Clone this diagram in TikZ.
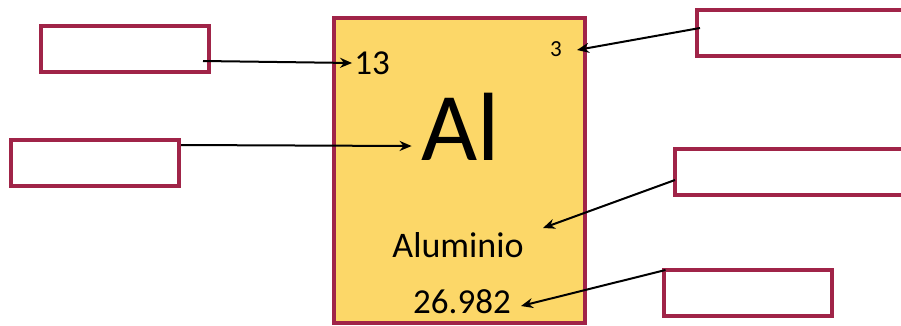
\documentclass[tikz,border=0pt]{standalone}
\usepackage{fontspec}
\setmainfont{Carlito}
\usetikzlibrary{arrows.meta, positioning, calc}
\definecolor{elemyellow}{RGB}{252, 215, 104}
\definecolor{elemborder}{RGB}{160, 36, 72}
\tikzset{
  labelbox/.style={
    draw=elemborder,
    line width=4pt,
    fill=white,
    minimum width=168pt,
    minimum height=46pt,
    inner sep=0pt
  },
  elembox/.style={
    draw=elemborder,
    line width=4pt,
    fill=elemyellow,
    minimum width=251pt,
    minimum height=305pt,
    inner sep=0pt
  },
  pointer/.style={
    -{Stealth[length=12pt,width=10pt]},
    line width=2pt,
    draw=black
  },
  elemtext/.style={inner sep=0pt, text=black}
}

\begin{document}
\begin{tikzpicture}[x=1pt, y=-1pt]
  \useasboundingbox (0,0) rectangle (901,325);
  % element card
  \node[elembox] (card) at (459.5,170) {};
  \node[elemtext, font=\fontsize{35}{35}\selectfont] (numtxt) at (372,63) {13};
  \node[elemtext, font=\fontsize{23}{23}\selectfont] (valtxt) at (556,49) {3};
  \node[elemtext, font=\fontsize{97}{97}\selectfont] (symtxt) at (461,127) {Al};
  \node[elemtext, font=\fontsize{36}{36}\selectfont] (nametxt) at (458,245) {Aluminio};
  \node[elemtext, font=\fontsize{35}{35}\selectfont] (masstxt) at (462,302) {26.982};

  % empty label boxes
  \node[labelbox] (boxnum) at (125,49) {};
  \node[labelbox] (boxsym) at (95,163) {};
  \node[labelbox, minimum width=230pt] (boxval) at (812,33) {};
  \node[labelbox, minimum width=230pt] (boxname) at (790,172) {};
  \node[labelbox] (boxmass) at (747.5,293) {};

  % arrows
  \draw[pointer] ($(boxnum.east)+(-8,12)$) -- ($(numtxt.west)+(-2,0)$);
  \draw[pointer] ($(boxsym.east)+(0,-18)$) -- ($(symtxt.west)+(-10,19)$);
  \draw[pointer] ($(boxval.west)+(5,-5)$) -- ($(valtxt.east)+(15,1)$);
  \draw[pointer] ($(boxname.west)+(2,8)$) -- (543,228);
  \draw[pointer] ($(boxmass.north west)+(4,2)$) -- ($(masstxt.east)+(10,4)$);
\end{tikzpicture}
\end{document}
